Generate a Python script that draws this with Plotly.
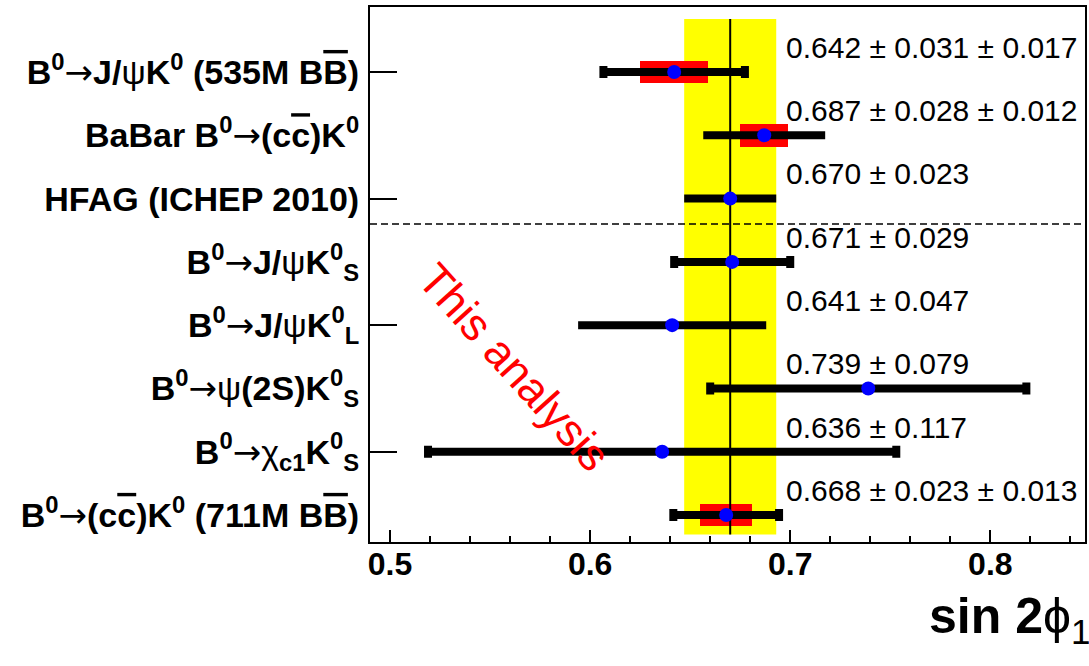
import math
import plotly.graph_objects as go

ARROW = "<span style=\"font-family:'DejaVu Sans';font-weight:normal\">→</span>"

# sin2phi1 measurements, listed top to bottom
labels = [
    "B<sup>0</sup>" + ARROW + "J/<span style='font-weight:normal'>ψ</span>K<sup>0</sup> (535M B<span style='text-decoration:overline'>B</span>)",
    "BaBar B<sup>0</sup>" + ARROW + "(c<span style='text-decoration:overline'>c</span>)K<sup>0</sup>",
    "HFAG (ICHEP 2010)",
    "B<sup>0</sup>" + ARROW + "J/<span style='font-weight:normal'>ψ</span>K<sup>0</sup><sub>S</sub>",
    "B<sup>0</sup>" + ARROW + "J/<span style='font-weight:normal'>ψ</span>K<sup>0</sup><sub>L</sub>",
    "B<sup>0</sup>" + ARROW + "<span style='font-weight:normal'>ψ</span>(2S)K<sup>0</sup><sub>S</sub>",
    "B<sup>0</sup>" + ARROW + "<span style='font-weight:normal'>χ</span><sub>c1</sub>K<sup>0</sup><sub>S</sub>",
    "B<sup>0</sup>" + ARROW + "(c<span style='text-decoration:overline'>c</span>)K<sup>0</sup> (711M B<span style='text-decoration:overline'>B</span>)",
]
central = [0.642, 0.687, 0.670, 0.671, 0.641, 0.739, 0.636, 0.668]
stat_err = [0.031, 0.028, 0.023, 0.029, 0.047, 0.079, 0.117, 0.023]
syst_err = [0.017, 0.012, None, None, None, None, None, 0.013]
world_avg = 0.670
world_avg_err = 0.023

# drawing style
capped = [True, False, False, True, False, True, True, True]
n = len(labels)
rows = [n - i for i in range(n)]          # 8 (top) ... 1 (bottom)
y_lo, y_hi = 0.573, 9.028
x_lo, x_hi = 0.49, 0.8473
FONT = "Liberation Sans, Arial, Helvetica, sans-serif"

total_err = [math.hypot(s, y or 0.0) for s, y in zip(stat_err, syst_err)]

fig = go.Figure()

# world-average band
band_y0, band_y1 = rows[-1] - 0.31, rows[0] + 0.84
fig.add_shape(type="rect", xref="x", yref="y",
              x0=world_avg - world_avg_err, x1=world_avg + world_avg_err,
              y0=band_y0, y1=band_y1, fillcolor="#ffff00", line_width=0, layer="below")

# systematic boxes
sx, sy, sb = [], [], []
for c, s, r in zip(central, syst_err, rows):
    if s:
        sb.append(c - s); sx.append(2 * s); sy.append(r)
fig.add_trace(go.Bar(orientation="h", base=sb, x=sx, y=sy, width=0.36,
                     marker=dict(color="#ff0000", line_width=0),
                     showlegend=False, hoverinfo="skip"))

# vertical line at the world average
fig.add_trace(go.Scatter(x=[world_avg, world_avg], y=[band_y0, band_y1], mode="lines",
                         line=dict(color="black", width=2), showlegend=False, hoverinfo="skip"))

# total error bars with central values
for want_cap in (True, False):
    idx = [i for i in range(n) if capped[i] == want_cap]
    fig.add_trace(go.Scatter(
        x=[central[i] for i in idx], y=[rows[i] for i in idx], mode="markers",
        marker=dict(color="#0000ff", size=14, line_width=0),
        error_x=dict(type="data", array=[total_err[i] for i in idx], color="black",
                     thickness=8, width=6 if want_cap else 0),
        showlegend=False, hoverinfo="skip"))

# value labels
for c, s, y, r in zip(central, stat_err, syst_err, rows):
    txt = f"{c:.3f} ± {s:.3f}" + (f" ± {y:.3f}" if y else "")
    fig.add_annotation(x=0.697, y=r + 0.39, xref="x", yref="y", text=txt, showarrow=False,
                       xanchor="left", yanchor="middle",
                       font=dict(family=FONT, size=30, color="black"))

# separator between averages and this measurement
fig.add_shape(type="line", xref="paper", yref="y", x0=0, x1=1, y0=5.6, y1=5.6,
              line=dict(color="black", width=1.5, dash="7px,4px"))

fig.add_annotation(x=0.5622, y=3.33, xref="x", yref="y", text="This analysis",
                   showarrow=False, textangle=48,
                   font=dict(family=FONT, size=45, color="#ff0000"))

fig.add_annotation(x=1.0098, y=-0.0825, xref="paper", yref="paper",
                   text="<b>sin 2</b>ϕ<sub>1</sub>", showarrow=False,
                   xanchor="right", yanchor="top",
                   font=dict(family=FONT, size=50, color="black"))

# secondary axis carrying only the left-side tick marks
fig.add_trace(go.Scatter(x=[None], y=[None], yaxis="y2", showlegend=False, hoverinfo="skip"))

fig.update_layout(
    width=1089, height=666,
    margin=dict(l=370, r=2, t=7, b=124),
    paper_bgcolor="white", plot_bgcolor="white",
    bargap=0,
    xaxis=dict(range=[x_lo, x_hi], showgrid=False, zeroline=False,
               showline=True, linecolor="black", linewidth=2, mirror=True,
               ticks="inside", ticklen=12, tickwidth=1.5, tickcolor="black",
               tick0=0.5, dtick=0.1, tickformat=".1f",
               minor=dict(ticks="inside", ticklen=6, tickwidth=1.5, tickcolor="black",
                          tick0=0.5, dtick=0.02),
               tickfont=dict(family=FONT, size=32, color="black", weight="bold"),
               ticklabelstandoff=-7),
    yaxis=dict(range=[y_lo, y_hi], showgrid=False, zeroline=False,
               showline=True, linecolor="black", linewidth=2, mirror=True,
               tickvals=rows, ticktext=labels, ticks="",
               tickfont=dict(family=FONT, size=34, color="black", weight="bold"),
               ticklabelstandoff=2),
    yaxis2=dict(range=[y_lo, y_hi], overlaying="y", side="left", showgrid=False,
                zeroline=False, showline=False, showticklabels=False,
                tickvals=rows[0::2], ticks="inside", ticklen=27, tickwidth=2,
                tickcolor="black"),
)

fig.write_html("out.html")
